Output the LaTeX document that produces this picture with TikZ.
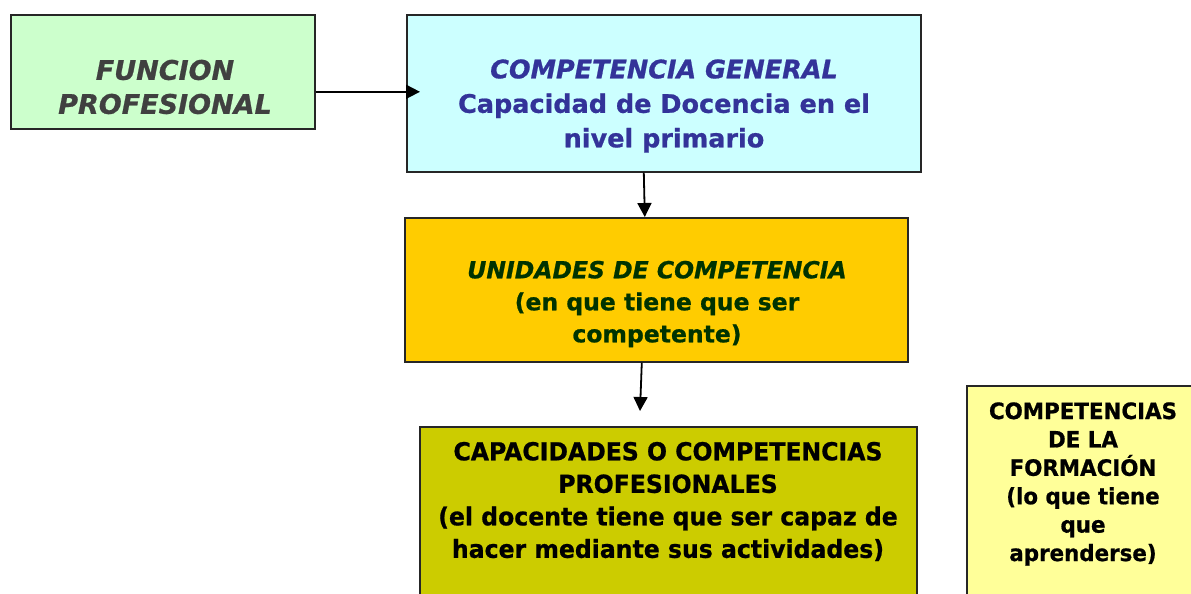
\documentclass[tikz,border=0pt]{standalone}
\usepackage{fontspec}
\setmainfont{DejaVu Sans}[BoldFeatures={FakeBold=0.8},BoldItalicFeatures={FakeBold=0.8}]
\newfontfamily\narrowfont{DejaVu Sans}[FakeStretch=0.95,BoldFeatures={FakeBold=0.8}]
\usetikzlibrary{arrows.meta}
\definecolor{cGreen}{HTML}{CCFFCC}
\definecolor{cCyan}{HTML}{CCFFFF}
\definecolor{cGold}{HTML}{FFCC00}
\definecolor{cOlive}{HTML}{CCCC00}
\definecolor{cYellow}{HTML}{FFFF99}
\definecolor{tGray}{HTML}{404040}
\definecolor{tBlue}{HTML}{333399}
\definecolor{tDkGreen}{HTML}{003300}
\begin{document}
\begin{tikzpicture}[x=1pt,y=-1pt,
  box/.style={draw=black!85, line width=1.6pt, anchor=north west, inner sep=0pt},
  lbl/.style={align=center, inner sep=0pt},
  arr/.style={line width=1.8pt, -{Triangle[length=14pt,width=14pt]}}]
\useasboundingbox (0,0) rectangle (1191,594);
\clip (0,0) rectangle (1191,594);
\node[box, fill=cGreen, minimum width=304pt, minimum height=114pt] (b1) at (10,14) {};
\node[box, fill=cCyan, minimum width=514pt, minimum height=157pt] (b2) at (406,14) {};
\node[box, fill=cGold, minimum width=503pt, minimum height=144pt] (b3) at (404,217) {};
\node[box, fill=cOlive, minimum width=497pt, minimum height=200pt] (b4) at (419,426) {};
\node[box, fill=cYellow, minimum width=250pt, minimum height=230pt] (b5) at (966,385) {};
\node[lbl, text=tGray, font=\fontsize{27}{34}\selectfont\bfseries\itshape] (t1) at (165,87) {FUNCION\\PROFESIONAL};
\node[lbl, text=tBlue, font=\fontsize{25.5}{34.5}\selectfont\bfseries] (t2) at (664,106) {\textit{COMPETENCIA GENERAL}\\Capacidad de Docencia en el\\nivel primario};
\node[lbl, text=tDkGreen, font=\fontsize{23.5}{32}\selectfont\bfseries] (t3) at (657,304) {\textit{UNIDADES DE COMPETENCIA}\\(en que tiene que ser\\competente)};
\node[lbl, text=black, font=\narrowfont\fontsize{24.8}{32.5}\selectfont\bfseries] (t4) at (668,501.5) {CAPACIDADES O COMPETENCIAS\\PROFESIONALES\\(el docente tiene que ser capaz de\\hacer mediante sus actividades)};
\node[lbl, text=black, font=\narrowfont\fontsize{22.5}{28.4}\selectfont\bfseries] (t5) at (1083,484) {COMPETENCIAS\\DE LA\\FORMACIÓN\\(lo que tiene\\que\\aprenderse)};
\coordinate (c3) at (640,411);
\draw[arr] ([yshift=1.5pt]b1.east |- b2.west) -- ([xshift=14pt,yshift=1.5pt]b2.west);
\draw[arr] ([xshift=-20pt]b2.south) -- ([xshift=-11.5pt]b3.north);
\draw[arr] ([xshift=-14.5pt]b3.south) -- (c3);
\end{tikzpicture}
\end{document}
